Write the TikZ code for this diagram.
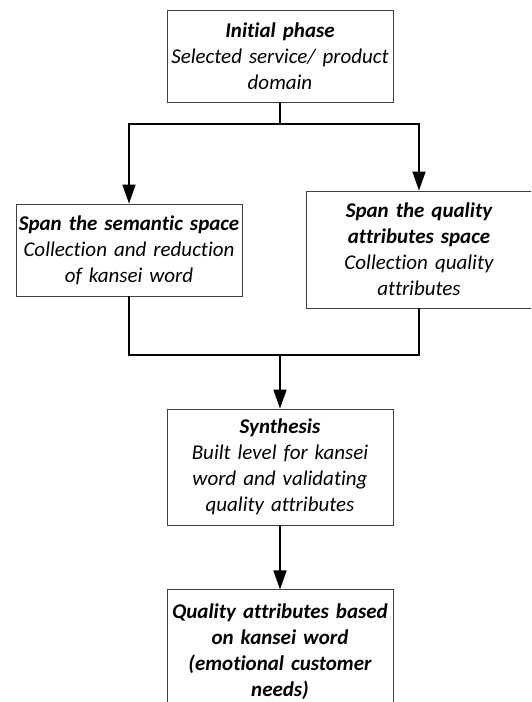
\documentclass[tikz,border=0pt]{standalone}
\usepackage{fontspec}
\setmainfont{Carlito}[Ligatures={NoCommon}]
\usepackage{tikz}
\usetikzlibrary{arrows.meta,positioning}
\tikzset{
    stepbox/.style={rectangle, draw=black!75, line width=0.9pt, text width=222pt, inner xsep=2pt, inner ysep=0pt, align=center, font=\itshape\fontsize{21}{26}\selectfont},
    pil/.style={-{Triangle[length=19pt,width=13pt]}, line width=1.6pt}
}

\begin{document}
\begin{tikzpicture}[x=1pt, y=1pt]
    \useasboundingbox (0,0) rectangle (531,-702);
    \clip (0,0) rectangle (531,-702);
    \node[stepbox, minimum height=92pt] (init) at (280,-56)
      {\textbf{Initial phase}\\
      Selected service/ product\\
      domain};
    \node[stepbox, minimum height=92pt] (semantic) at (129,-250)
      {\textbf{Span the semantic space}\\
      Collection and reduction\\
      of kansei word};
    \node[stepbox, minimum height=117pt] (quality) at (419,-249.5)
      {\textbf{Span the quality}\\
      \textbf{attributes space}\\
      Collection quality\\
      attributes};
    \node[stepbox, minimum height=116pt] (synth) at (280,-467)
      {\textbf{Synthesis}\\
      Built level for kansei\\
      word and validating\\
      quality attributes};
    \node[stepbox, minimum height=124pt, below=64pt of synth] (result)
      {\textbf{Quality attributes based}\\
      \textbf{on kansei word}\\
      \textbf{(emotional customer}\\
      \textbf{needs)}};
    \coordinate (split) at (280,-124);
    \coordinate (join) at (280,-355);
    % split to the two spaces
    \draw[line width=1.6pt] (init.south) -- (split);
    \draw[pil] (split) -| (semantic.north);
    \draw[pil] (split) -| (quality.north);
    % join again
    \draw[line width=1.6pt] (semantic.south) |- (join) -| (quality.south);
    \draw[pil] (join) -- (synth.north);
    \draw[pil] (synth.south) -- (result.north);
\end{tikzpicture}
\end{document}
